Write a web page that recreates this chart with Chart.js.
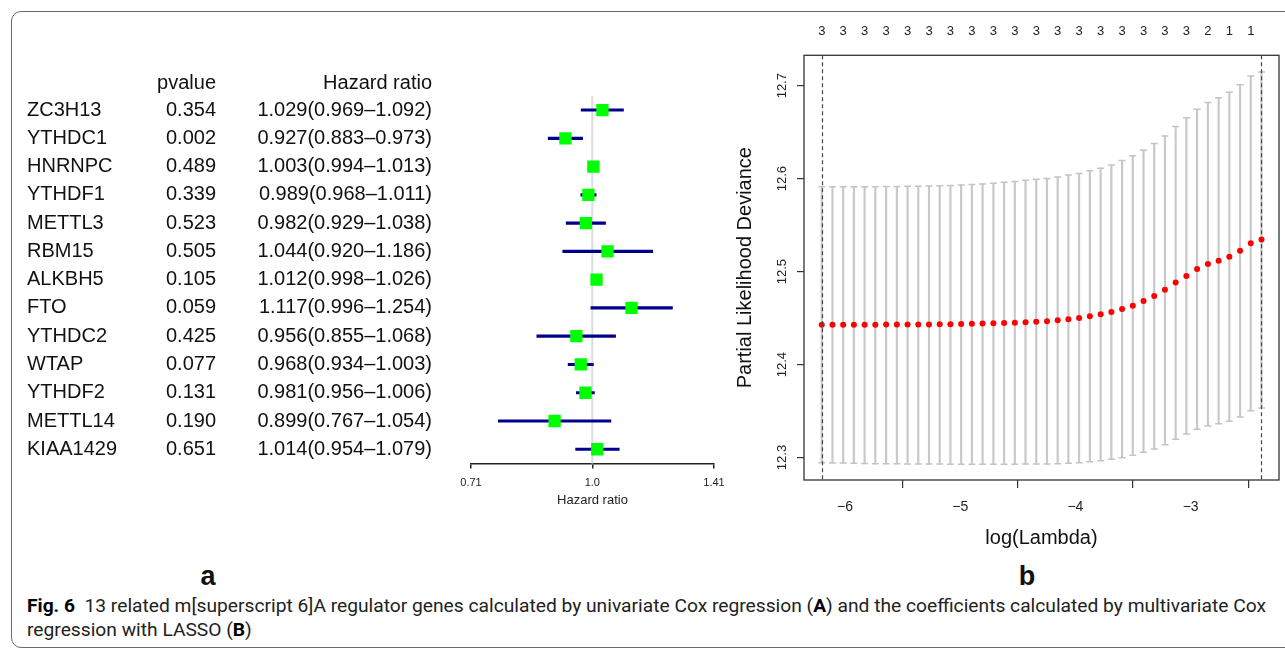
<!DOCTYPE html>
<html>
<head>
<meta charset="utf-8">
<script src="https://cdn.jsdelivr.net/npm/chart.js@4.4.0/dist/chart.umd.min.js"></script>
<style>
  html, body { margin: 0; padding: 0; background: #fff; }
  body { width: 1285px; height: 649px; position: relative; overflow: hidden; font-family: "Liberation Sans", Arial, sans-serif; }
  #frame { position: absolute; left: 11px; top: 11px; width: 1300px; height: 635px; border: 1.5px solid #6a6a6a; border-radius: 10px; }
  canvas { position: absolute; top: 0; }
  #forest { left: 0; }
  #lasso { left: 720px; }
  .panel { position: absolute; top: 561px; font-weight: bold; font-size: 27px; color: #111; transform: translateX(-50%); }
  .cap { position: absolute; left: 27px; font-family: Roboto, "Noto Sans", sans-serif; font-size: 18px; color: #222; white-space: nowrap; transform-origin: 0 0; }
  .cap b { color: #000; }
</style>
</head>
<body>
<div id="frame"></div>
<canvas id="forest" width="760" height="560"></canvas>
<canvas id="lasso" width="565" height="560"></canvas>
<div class="panel" style="left:208px">a</div>
<div class="panel" style="left:1027px">b</div>
<div id="cap1" class="cap" style="top:595px"><b>Fig. 6</b>&nbsp; 13 related m[superscript 6]A regulator genes calculated by univariate Cox regression (<b>A</b>) and the coefficients calculated by multivariate Cox</div>
<div id="cap2" class="cap" style="top:619px">regression with LASSO (<b>B</b>)</div>
<script>
// ---- panel a: univariate Cox ----
const genes = ['ZC3H13', 'YTHDC1', 'HNRNPC', 'YTHDF1', 'METTL3', 'RBM15', 'ALKBH5', 'FTO', 'YTHDC2', 'WTAP', 'YTHDF2', 'METTL14', 'KIAA1429'];
const pvalues = ['0.354', '0.002', '0.489', '0.339', '0.523', '0.505', '0.105', '0.059', '0.425', '0.077', '0.131', '0.190', '0.651'];
const hr = [1.029, 0.927, 1.003, 0.989, 0.982, 1.044, 1.012, 1.117, 0.956, 0.968, 0.981, 0.899, 1.014];
const hrLow = [0.969, 0.883, 0.994, 0.968, 0.929, 0.920, 0.998, 0.996, 0.855, 0.934, 0.956, 0.767, 0.954];
const hrHigh = [1.092, 0.973, 1.013, 1.011, 1.038, 1.186, 1.026, 1.254, 1.068, 1.003, 1.006, 1.054, 1.079];
const hrTicks = [0.71, 1.0, 1.41];
const hrTickLabels = ['0.71', '1.0', '1.41'];
const refValue = 1;

// ---- panel b: LASSO cross validation ----
const logLambda = [-6.202, -6.109, -6.016, -5.923, -5.830, -5.737, -5.643, -5.550, -5.457, -5.364,
  -5.271, -5.178, -5.085, -4.992, -4.899, -4.806, -4.712, -4.619, -4.526, -4.433,
  -4.340, -4.247, -4.154, -4.061, -3.968, -3.875, -3.781, -3.688, -3.595, -3.502,
  -3.409, -3.316, -3.223, -3.130, -3.037, -2.944, -2.850, -2.757, -2.664, -2.571,
  -2.478, -2.385];
const cvm = [12.4428, 12.4428, 12.4428, 12.4429, 12.4429, 12.4429, 12.4430, 12.4430, 12.4431, 12.4431,
  12.4432, 12.4433, 12.4434, 12.4436, 12.4438, 12.4441, 12.4444, 12.4447, 12.4451, 12.4455,
  12.4460, 12.4467, 12.4476, 12.4487, 12.4501, 12.4520, 12.4541, 12.4565, 12.4597, 12.4632,
  12.4683, 12.4737, 12.4804, 12.4884, 12.4952, 12.5027, 12.5081, 12.5116, 12.5159, 12.5224,
  12.5306, 12.5346];
const cvUp = [12.5912, 12.5912, 12.5912, 12.5913, 12.5913, 12.5914, 12.5915, 12.5916, 12.5917, 12.5919,
  12.5921, 12.5924, 12.5927, 12.5931, 12.5936, 12.5942, 12.5950, 12.5960, 12.5970, 12.5982,
  12.5993, 12.6002, 12.6019, 12.6038, 12.6056, 12.6084, 12.6113, 12.6148, 12.6196, 12.6245,
  12.6306, 12.6378, 12.6460, 12.6561, 12.6654, 12.6747, 12.6819, 12.6869, 12.6930, 12.7009,
  12.7105, 12.7148];
const cvLo = [12.2944, 12.2942, 12.2940, 12.2938, 12.2936, 12.2934, 12.2933, 12.2932, 12.2931, 12.2930,
  12.2929, 12.2929, 12.2928, 12.2928, 12.2927, 12.2927, 12.2927, 12.2927, 12.2928, 12.2929,
  12.2929, 12.2930, 12.2933, 12.2937, 12.2944, 12.2955, 12.2966, 12.2981, 12.2998, 12.3024,
  12.3056, 12.3091, 12.3138, 12.3196, 12.3253, 12.3303, 12.3339, 12.3364, 12.3389, 12.3435,
  12.3503, 12.3532];
const nzero = [3, 3, 3, 3, 3, 3, 3, 3, 3, 3, 3, 3, 3, 3, 3, 3, 3, 3, 3, 3, 3,
  3, 3, 3, 3, 3, 3, 3, 3, 3, 3, 3, 3, 3, 3, 3, 2, 2, 1, 1, 1, 1];
const lambdaMin = -6.202;
const lambda1se = -2.385;
const xTicks = [-6, -5, -4, -3];
const yTicks = [12.3, 12.4, 12.5, 12.6, 12.7];

const FONT = '"Liberation Sans", Arial, sans-serif';

const hrText = i => hr[i].toFixed(3) + '(' + hrLow[i].toFixed(3) + '\u2013' + hrHigh[i].toFixed(3) + ')';

const forestText = {
  id: 'forestText',
  beforeDatasetsDraw(chart) {
    const { ctx, chartArea, scales: { x } } = chart;
    const px = x.getPixelForValue(refValue);
    ctx.save();
    ctx.strokeStyle = '#dcdcdc';
    ctx.lineWidth = 2;
    ctx.beginPath();
    ctx.moveTo(px, chartArea.top);
    ctx.lineTo(px, chartArea.bottom);
    ctx.stroke();
    ctx.restore();
  },
  afterDraw(chart) {
    const { ctx, scales: { y } } = chart;
    const step = y.getPixelForValue(1) - y.getPixelForValue(0);
    ctx.save();
    ctx.font = '20px ' + FONT;
    ctx.fillStyle = '#111';
    ctx.textBaseline = 'middle';
    const headY = y.getPixelForValue(0) - step + 1.5;
    ctx.textAlign = 'right';
    ctx.fillText('pvalue', 216, headY);
    ctx.fillText('Hazard ratio', 432, headY);
    genes.forEach((g, i) => {
      const yy = y.getPixelForValue(i);
      ctx.textAlign = 'left';
      ctx.fillText(g, 27, yy);
      ctx.textAlign = 'right';
      ctx.fillText(pvalues[i], 216, yy);
      ctx.fillText(hrText(i), 432, yy);
    });
    ctx.restore();
  }
};

new Chart(document.getElementById('forest'), {
  type: 'bar',
  data: {
    labels: genes,
    datasets: [
      {
        type: 'line',
        indexAxis: 'y',
        data: hr.map((v, i) => ({ x: v, y: genes[i] })),
        showLine: false,
        pointStyle: 'rect',
        pointRadius: 8.7,
        pointBackgroundColor: '#00ff00',
        pointBorderWidth: 0,
        order: 0
      },
      {
        type: 'bar',
        indexAxis: 'y',
        data: hrLow.map((v, i) => [v, hrHigh[i]]),
        backgroundColor: '#00008b',
        borderWidth: 0,
        barThickness: 2.5,
        order: 1
      }
    ]
  },
  options: {
    indexAxis: 'y',
    responsive: false,
    animation: false,
    devicePixelRatio: 1,
    layout: { padding: { left: 471, right: 46, top: 95.9, bottom: 36.6 } },
    plugins: { legend: { display: false }, tooltip: { enabled: false } },
    scales: {
      x: {
        type: 'logarithmic',
        min: 0.71,
        max: 1.41,
        afterBuildTicks: s => { s.ticks = hrTicks.map(v => ({ value: v })); },
        afterFit: s => { s.height = 60; },
        ticks: {
          callback: (v, i) => hrTickLabels[i],
          font: { family: FONT, size: 11 },
          color: '#222',
          padding: 8,
          maxRotation: 0,
          autoSkip: false
        },
        grid: { drawOnChartArea: false, tickLength: 5, color: '#222', lineWidth: 1.5 },
        border: { display: true, color: '#222', width: 1.5 },
        title: { display: true, text: 'Hazard ratio', font: { family: FONT, size: 13 }, color: '#222', padding: { top: 0, bottom: 15 } }
      },
      y: { type: 'category', display: false, offset: true }
    }
  },
  plugins: [forestText]
});

// ---- panel b ----
const lassoDecor = {
  id: 'lassoDecor',
  afterDatasetsDraw(chart) {
    const { ctx, chartArea, scales: { x } } = chart;
    ctx.save();
    ctx.strokeStyle = '#444';
    ctx.lineWidth = 1.2;
    ctx.setLineDash([4, 3]);
    [lambdaMin, lambda1se].forEach(v => {
      const px = Math.round(x.getPixelForValue(v)) + 0.5;
      ctx.beginPath();
      ctx.moveTo(px, chartArea.top);
      ctx.lineTo(px, chartArea.bottom);
      ctx.stroke();
    });
    ctx.setLineDash([]);
    ctx.strokeStyle = '#333';
    ctx.lineWidth = 1.3;
    ctx.strokeRect(chartArea.left, chartArea.top, chartArea.right - chartArea.left, chartArea.bottom - chartArea.top);
    ctx.restore();
  }
};

const capStyle = {
  type: 'line',
  showLine: false,
  pointStyle: 'line',
  pointRadius: 3.5,
  pointBorderColor: '#c4c4c4',
  pointBorderWidth: 1.5,
  order: 1
};

new Chart(document.getElementById('lasso'), {
  type: 'bar',
  data: {
    datasets: [
      {
        type: 'line',
        data: logLambda.map((v, i) => ({ x: v, y: cvm[i] })),
        showLine: false,
        pointRadius: 3,
        pointBackgroundColor: '#ff0000',
        pointBorderWidth: 0,
        order: 0
      },
      Object.assign({ data: logLambda.map((v, i) => ({ x: v, y: cvUp[i] })) }, capStyle),
      Object.assign({ data: logLambda.map((v, i) => ({ x: v, y: cvLo[i] })) }, capStyle),
      {
        type: 'bar',
        data: logLambda.map((v, i) => ({ x: v, y: [cvLo[i], cvUp[i]] })),
        backgroundColor: '#c8c8c8',
        borderWidth: 0,
        barThickness: 1.5,
        order: 3
      }
    ]
  },
  options: {
    responsive: false,
    animation: false,
    devicePixelRatio: 1,
    layout: { padding: { left: 0, right: 6, top: 0, bottom: 0 } },
    plugins: { legend: { display: false }, tooltip: { enabled: false } },
    scales: {
      x: {
        type: 'linear',
        position: 'bottom',
        min: -6.356,
        max: -2.233,
        offset: false,
        afterBuildTicks: s => { s.ticks = xTicks.map(v => ({ value: v })); },
        afterFit: s => { s.height = 80; },
        ticks: {
          callback: v => String(v).replace('-', '\u2212'),
          font: { family: FONT, size: 14 },
          color: '#222',
          padding: 11,
          maxRotation: 0,
          autoSkip: false
        },
        grid: { drawOnChartArea: false, tickLength: 8, color: '#333', lineWidth: 1.2 },
        border: { display: false },
        title: { display: true, text: 'log(Lambda)', font: { family: FONT, size: 20 }, color: '#111', padding: { top: 0, bottom: 10 } }
      },
      x2: {
        type: 'linear',
        position: 'top',
        min: -6.356,
        max: -2.233,
        offset: false,
        afterBuildTicks: s => { s.ticks = logLambda.filter((v, i) => i % 2 === 0).map(v => ({ value: v })); },
        afterFit: s => { s.height = 55.3; },
        ticks: {
          callback: (v, i) => String(nzero[i * 2]),
          font: { family: FONT, size: 13 },
          color: '#222',
          padding: 15.8,
          maxRotation: 0,
          autoSkip: false
        },
        grid: { display: false, drawTicks: false },
        border: { display: false }
      },
      y: {
        type: 'linear',
        min: 12.2758,
        max: 12.7327,
        beginAtZero: false,
        afterBuildTicks: s => { s.ticks = yTicks.map(v => ({ value: v })); },
        afterFit: s => { s.width = 84; },
        ticks: {
          callback: v => v.toFixed(1),
          font: { family: FONT, size: 13 },
          color: '#222',
          minRotation: 90,
          maxRotation: 90,
          crossAlign: 'center',
          padding: 1.5
        },
        grid: { drawOnChartArea: false, tickLength: 7, color: '#333', lineWidth: 1.2 },
        border: { display: false },
        title: { display: true, text: 'Partial Likelihood Deviance', font: { family: FONT, size: 20 }, color: '#111', padding: { top: 13, bottom: 0 } }
      }
    }
  },
  plugins: [lassoDecor]
});

// fit caption width to the figure
const cap1 = document.getElementById('cap1');
const cap2 = document.getElementById('cap2');
const k = 1239 / cap1.getBoundingClientRect().width;
cap1.style.transform = 'scaleX(' + k + ')';
cap2.style.transform = 'scaleX(' + k + ')';
</script>
</body>
</html>
